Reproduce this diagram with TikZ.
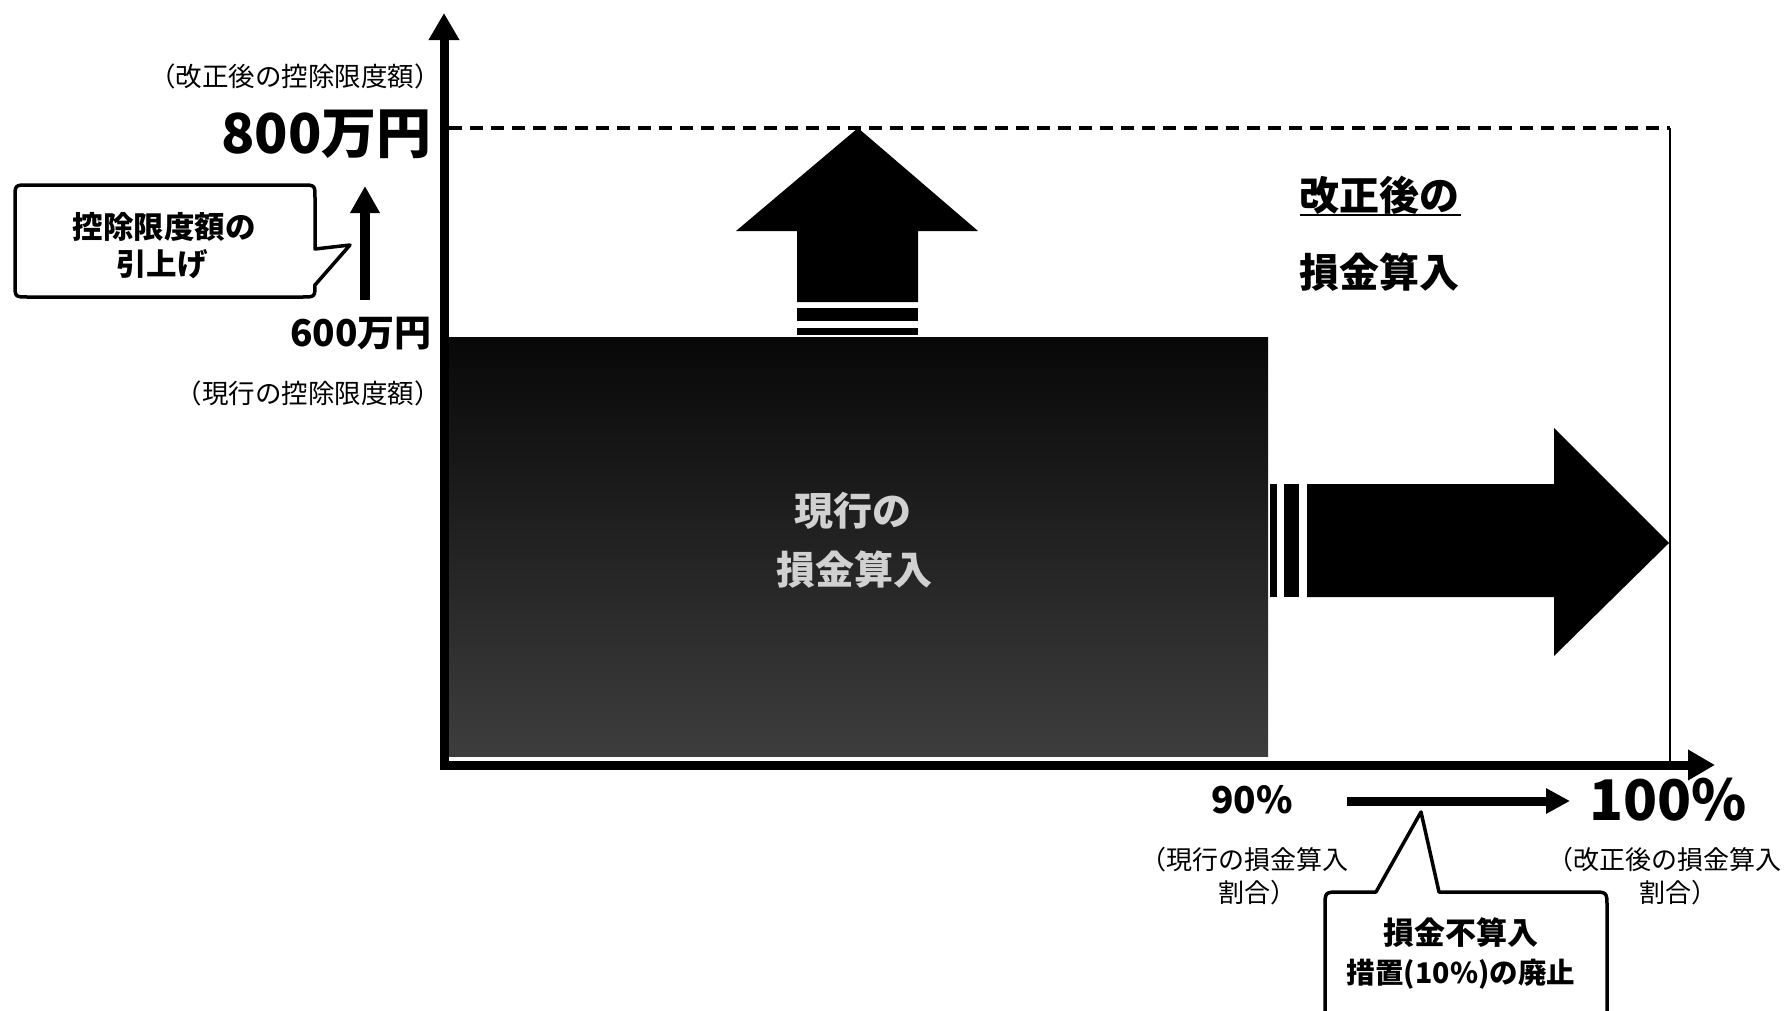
\documentclass[tikz,border=0pt]{standalone}
\usepackage{fontspec}
\setmainfont{Noto Sans CJK JP}
\usetikzlibrary{arrows.meta}
\newcommand\jfs[1]{\fontsize{#1}{#1}\selectfont}
\begin{document}
\begin{tikzpicture}[x=1pt,y=-1pt,
  lbl/.style={inner sep=0pt},
  axisline/.style={line width=9pt,-{Triangle[length=27pt,width=29pt]}},
  bigarrow/.style={fill=black},
  callout/.style={draw=black,line width=3.5pt,fill=white,line join=round},
  ]
\useasboundingbox (0,0) rectangle (1786,1010);
\clip (0,0) rectangle (1786,1010);
\fill[white] (0,0) rectangle (1786,1010);

% coordinates
\coordinate (O) at (444,765);
\coordinate (Ytop) at (444,13);
\coordinate (Xend) at (1715,765);
\coordinate (D0) at (449,128);
\coordinate (D1) at (1670,128);
\coordinate (D2) at (1670,765);

% current deduction (dark box)
\shade[top color=black!97, bottom color=black!76] (449,337) rectangle (1268,756);
\node[lbl,font=\bfseries\jfs{39},text=white!82!black] (curA) at (853,511) {現行の};
\node[lbl,font=\bfseries\jfs{39},text=white!82!black] (curB) at (854,570) {損金算入};

% dashed limit line and right boundary
\draw[line width=3.5pt,dash pattern=on 13pt off 8pt] (D0) -- (D1);
\draw[line width=2.5pt] (D1) -- (D2);

% up arrow
\fill[bigarrow] (797,302) -- (797,231) -- (736,231) -- (858,128) -- (978,231) -- (918,231) -- (918,302) -- cycle;
\fill (797,308) rectangle (918,321);
\fill (797,328) rectangle (918,335);

% right arrow
\fill[bigarrow] (1307,484) -- (1554,484) -- (1554,428) -- (1669,543) -- (1554,656) -- (1554,597) -- (1307,597) -- cycle;
\fill (1270,484) rectangle (1277,597);
\fill (1284,484) rectangle (1299,597);

% axes
\draw[axisline] (444,769) -- (Ytop);
\draw[axisline] (440,765) -- (Xend);

% left labels
\node[lbl,anchor=east,font=\jfs{26.5}] (kaiseiLim) at (441,76) {（改正後の控除限度額）};
\node[lbl,anchor=east,font=\bfseries\jfs{55}] (v800) at (432,134) {800万円};
\node[lbl,anchor=east,font=\bfseries\jfs{37}] (v600) at (432,334) {600万円};
\node[lbl,anchor=east,font=\jfs{26.5}] (genkoLim) at (441,393) {（現行の控除限度額）};

% small up arrow
\coordinate (sa0) at (365,300);
\coordinate (sa1) at (365,186);
\draw[line width=10pt,-{Triangle[length=27pt,width=28pt]}] (sa0) -- (sa1);

% left callout
\draw[callout] (350,245) -- (315,285) -- (315,284) .. controls (315,297) .. (302,297) -- (28,297)
  .. controls (15,297) .. (15,284) -- (15,198) .. controls (15,185) .. (28,185) -- (302,185)
  .. controls (315,185) .. (315,198) -- (315,249) -- cycle;
\node[lbl,font=\bfseries\jfs{30.5}] (callL1) at (164,227) {控除限度額の};
\node[lbl,font=\bfseries\jfs{30.5}] (callL2) at (162,264) {引上げ};

% right text
\node[lbl,anchor=west,font=\bfseries\jfs{40}] (kaiseiA) at (1299,195) {改正後の};
\draw[line width=2.5pt] (1300,215) -- (1461,215);
\node[lbl,anchor=west,font=\bfseries\jfs{40}] (kaiseiB) at (1299,272) {損金算入};

% x labels
\node[lbl,font=\bfseries\jfs{37}] (p90) at (1252,800) {90\%};
\node[lbl,font=\bfseries\jfs{56}] (p100) at (1668,800) {100\%};
\coordinate (ba0) at (1347,801);
\coordinate (ba1) at (1570,801);
\draw[line width=9pt,-{Triangle[length=24pt,width=24pt]}] (ba0) -- (ba1);

\node[lbl,font=\jfs{26}] (genkoR1) at (1244,860) {（現行の損金算入};
\node[lbl,font=\jfs{26}] (genkoR2) at (1257,893) {割合）};
\node[lbl,font=\jfs{26}] (kaiseiR1) at (1664,860) {（改正後の損金算入};
\node[lbl,font=\jfs{26}] (kaiseiR2) at (1678,893) {割合）};

% bottom callout
\draw[callout] (1376,892) -- (1421,812) -- (1439,892) -- (1592,892) .. controls (1607,892) .. (1607,907)
  -- (1607,1040) -- (1325,1040) -- (1325,907) .. controls (1325,892) .. (1340,892) -- cycle;
\node[lbl,font=\bfseries\jfs{31}] (callB1) at (1461,933) {損金不算入};
\node[lbl,font=\bfseries\jfs{28.5}] (callB2) at (1461,974) {措置(10\%)の廃止};
\end{tikzpicture}
\end{document}
